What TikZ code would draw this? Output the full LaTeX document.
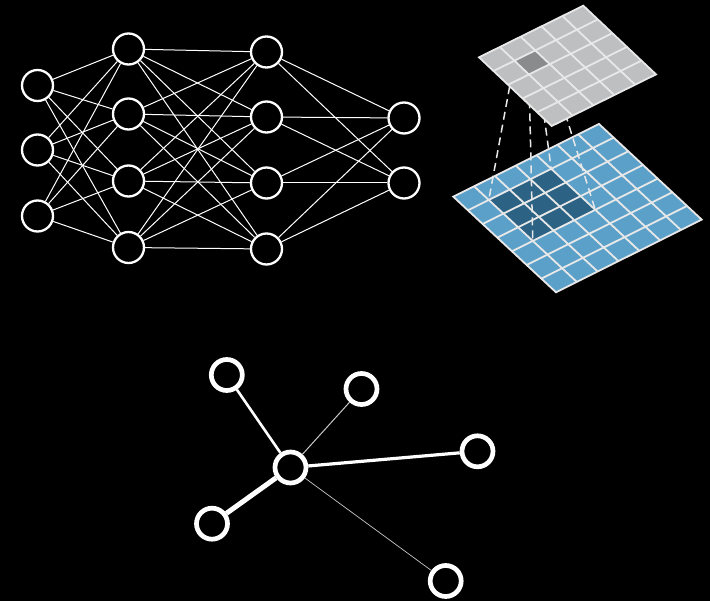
\documentclass[tikz,border=0pt]{standalone}
\definecolor{gridgray}{RGB}{190,191,193}
\definecolor{cellgraydark}{RGB}{138,139,141}
\definecolor{cellblue}{RGB}{91,160,201}
\definecolor{cellbluedark}{RGB}{44,98,132}
\definecolor{gridline}{RGB}{232,232,232}
\definecolor{thinedge}{RGB}{200,200,200}
\begin{document}
\begin{tikzpicture}[x=1pt,y=-1pt,
  neuron/.style={circle,draw=white,line width=2.3pt,minimum size=31pt,inner sep=0pt},
  nnedge/.style={white,line width=1pt},
  gnode/.style={circle,draw=white,line width=4.7pt,minimum size=31pt,inner sep=0pt},
  cellline/.style={gridline,line width=1.8pt},
  projline/.style={gridline,line width=1.5pt,dash pattern=on 8pt off 5pt}]
\fill[black] (0,0) rectangle (710,601);
\useasboundingbox (0,0) rectangle (710,601);

% ---------- neural network ----------
\foreach \y [count=\i] in {85.5,150,216} \node[neuron] (a\i) at (37.5,\y) {};
\foreach \y [count=\i] in {49,114,181,247.5} \node[neuron] (b\i) at (128.5,\y) {};
\foreach \y [count=\i] in {52,117,183,249} \node[neuron] (c\i) at (266.5,\y) {};
\foreach \y [count=\i] in {118,183} \node[neuron] (d\i) at (404,\y) {};
\foreach \i in {1,2,3} \foreach \j in {1,2,3,4} \draw[nnedge] (a\i) -- (b\j);
\foreach \i in {1,2,3,4} \foreach \j in {1,2,3,4} \draw[nnedge] (b\i) -- (c\j);
\foreach \i in {1,2,3,4} \foreach \j in {1,2} \draw[nnedge] (c\i) -- (d\j);

% ---------- convolution: input grid (7x7) ----------
\begin{scope}[shift={(453.3,196.7)},x={(20.814pt,10.386pt)},y={(14.671pt,-13.657pt)}]
  \fill[cellblue] (0,0) -- (7,0) -- (7,7) -- (0,7) -- cycle;
  \fill[cellbluedark] (1,1) -- (4,1) -- (4,4) -- (1,4) -- cycle;
  \foreach \k in {1,...,6} {
    \draw[cellline] (\k,0) -- (\k,7);
    \draw[cellline] (0,\k) -- (7,\k);
  }
  \draw[cellline,line join=miter] (0,0) -- (7,0) -- (7,7) -- (0,7) -- cycle;
  \coordinate (i11) at (1,1);
  \coordinate (i41) at (4,1);
  \coordinate (i14) at (1,4);
  \coordinate (i44) at (4,4);
\end{scope}

% ---------- convolution: output grid (5x5) corners ----------
\begin{scope}[shift={(479,57.3)},x={(20.86pt,10.32pt)},y={(14.54pt,-13.74pt)}]
  \coordinate (o11) at (1,1);
  \coordinate (o21) at (2,1);
  \coordinate (o12) at (1,2);
  \coordinate (o22) at (2,2);
\end{scope}

% projection lines
\draw[projline] (o11) -- (i11);
\draw[projline] (o21) -- (i41);
\draw[projline] (o12) -- (i14);
\draw[projline] (o22) -- (i44);

\begin{scope}[shift={(479,57.3)},x={(20.86pt,10.32pt)},y={(14.54pt,-13.74pt)}]
  \fill[gridgray] (0,0) -- (5,0) -- (5,5) -- (0,5) -- cycle;
  \fill[cellgraydark] (1,1) -- (2,1) -- (2,2) -- (1,2) -- cycle;
  \foreach \k in {1,...,4} {
    \draw[cellline] (\k,0) -- (\k,5);
    \draw[cellline] (0,\k) -- (5,\k);
  }
  \draw[cellline,line join=miter] (0,0) -- (5,0) -- (5,5) -- (0,5) -- cycle;
\end{scope}

% ---------- graph ----------
\node[gnode] (g0) at (290.5,467.5) {};
\node[gnode] (g1) at (226.8,375) {};
\node[gnode] (g2) at (361.5,389) {};
\node[gnode] (g3) at (477.5,451.3) {};
\node[gnode] (g4) at (212,523.7) {};
\node[gnode] (g5) at (445.7,581) {};
\draw[white,line width=2.6pt] (g0) -- (g1);
\draw[thinedge,line width=1pt] (g0) -- (g2);
\draw[white,line width=3.2pt] (g0) -- (g3);
\draw[white,line width=5pt] (g0) -- (g4);
\draw[thinedge,line width=0.7pt] (g0) -- (g5);
\end{tikzpicture}
\end{document}
